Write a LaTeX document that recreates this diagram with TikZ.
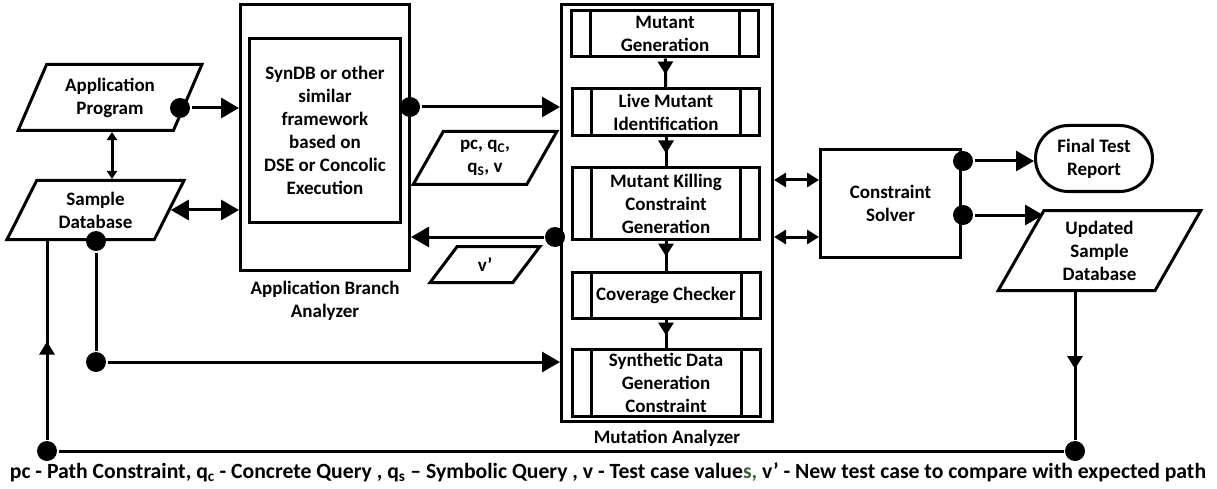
\documentclass[tikz,border=0pt]{standalone}
\usepackage{fontspec}
\setmainfont{Carlito}
\usetikzlibrary{positioning,arrows.meta,shapes.geometric,shapes.misc,decorations.markings}
\definecolor{sgreen}{RGB}{56,98,52}

\tikzset{
  box/.style={draw, line width=3pt, align=center, inner sep=0pt},
  proc/.style={box, minimum width=187pt, minimum height=46pt,
    path picture={\draw[line width=3pt]
      ([xshift=19pt]path picture bounding box.north west) -- ([xshift=19pt]path picture bounding box.south west)
      ([xshift=-19pt]path picture bounding box.north east) -- ([xshift=-19pt]path picture bounding box.south east);}},
  io/.style={box, trapezium, trapezium left angle=63, trapezium right angle=117, trapezium stretches=true},
  dot/.style={circle, fill, inner sep=0pt, minimum size=20pt},
  small tips/.style={{Triangle[length=8pt,width=10pt]}-{Triangle[length=8pt,width=10pt]}},
  mid tips/.style={{Triangle[length=12pt,width=14pt]}-{Triangle[length=12pt,width=14pt]}},
  big tips/.style={{Triangle[length=18pt,width=20pt]}-{Triangle[length=18pt,width=20pt]}},
  tipat/.style={postaction={decorate}, decoration={markings,
    mark=at position #1 with {\arrow{Triangle[length=13pt,width=15pt]}}}}
}

\begin{document}
\begin{tikzpicture}[x=1pt,y=-1pt,line width=3pt,>={Triangle[length=18pt,width=20pt]},
    font=\bfseries\fontsize{19}{23}\selectfont]
  \useasboundingbox (0,0) rectangle (1217,489);

  % inputs
  \node[io, minimum width=184pt, minimum height=66pt] (app) at (110,97.5) {Application\\Program};
  \node[io, minimum width=177pt, minimum height=59pt] (sdb) at (95.5,210) {Sample\\Database};

  % application branch analyzer
  \node[box, minimum width=169pt, minimum height=266pt] (aba) at (325,137.5) {};
  \node[box, minimum width=151pt, minimum height=184pt] (syn) at (325,130.5)
    {SynDB or other\\similar\\framework\\based on\\DSE or Concolic\\Execution};
  \node[align=center] (abalabel) at (325,301) {Application Branch\\Analyzer};

  \node[io, minimum width=144pt, minimum height=53pt] (pcq) at (485,158)
    {pc, q\textsubscript{C},\\q\textsubscript{S}, v};
  \node[io, minimum width=110pt, minimum height=36pt] (vnew) at (485,264.5) {v’};

  % mutation analyzer
  \node[box, minimum width=211pt, minimum height=417pt] (mut) at (667,213) {};
  \node[proc] (mg) at (665,34) {Mutant\\Generation};
  \node[proc, minimum height=47pt] (lmi) at (666,112.5) {Live Mutant\\Identification};
  \node[proc, minimum height=71pt] (mkc) at (666,203.5) {Mutant Killing\\Constraint\\Generation};
  \node[proc, minimum width=188pt] (cc) at (666,295) {Coverage Checker};
  \node[proc, minimum width=188pt, minimum height=67pt] (sdg) at (666,382.5) {Synthetic Data\\Generation\\Constraint};
  \node[below=2pt of mut] (mutlabel) {Mutation Analyzer};

  % solver and outputs
  \node[box, minimum width=140pt, minimum height=108pt] (cs) at (890.5,203.5) {Constraint\\Solver};
  \node[box, rounded rectangle, minimum width=117pt, minimum height=66pt] (ftr) at (1094,158.5) {Final Test\\Report};
  \node[io, minimum width=203pt, minimum height=80pt] (upd) at (1099.5,250.5) {Updated\\Sample\\Database};

  % dots
  \node[dot] (dapp) at (180,108) {};
  \node[dot] (dsyn) at (410,107) {};
  \node[dot] (dmut) at (555,237) {};
  \node[dot] (dsdb) at (96,241) {};
  \node[dot] (dlow) at (96,362) {};
  \node[dot] (dft) at (963,161) {};
  \node[dot] (dup) at (963,215) {};
  \node[dot] (drt) at (1075,451) {};
  \node[dot] (dlt) at (47,451) {};
  \coordinate (cs1) at ([yshift=23.5pt]cs.west);
  \coordinate (cs2) at ([yshift=-33.5pt]cs.west);

  % connectors
  \draw[->] (dapp) -- (aba.west |- dapp);
  \draw[small tips] ([xshift=2pt]app.south) -- ([xshift=2pt]app.south |- sdb.north);
  \draw[big tips] (sdb.east) -- (aba.west |- sdb.east);
  \draw[->] (dsyn) -- (mut.west |- dsyn);
  \draw[->] (dmut) -- (aba.east |- dmut);
  \draw (dsdb) -- (dlow);
  \draw[->] (dlow) -- (mut.west |- dlow);

  \draw[tipat=16pt] (mg) -- (lmi);
  \draw[tipat=16pt] (lmi) -- (mkc);
  \draw[tipat=16pt] (mkc) -- (cc);
  \draw[tipat=16pt] (cc) -- (sdg);

  \draw[mid tips] (mut.east |- cs1) -- (cs1);
  \draw[mid tips] (mut.east |- cs2) -- (cs2);
  \draw[->] (dft) -- (ftr.west |- dft);
  \draw[->] (dup) -- (dup -| upd.top left corner);

  \draw[tipat=77pt] (upd.south -| drt) -- (drt);
  \draw (drt) -- (dlt);
  \draw[tipat=98pt] (dlt) -- (dlt |- sdb.south);

  % legend
  \node (legend) at (608,472) {\fontsize{21.7}{26}\selectfont pc - Path Constraint, q\textsubscript{c} - Concrete Query , q\textsubscript{s} – Symbolic Query , v - Test case value\textcolor{sgreen}{s,} v’ - New test case to compare with expected path};
\end{tikzpicture}
\end{document}
